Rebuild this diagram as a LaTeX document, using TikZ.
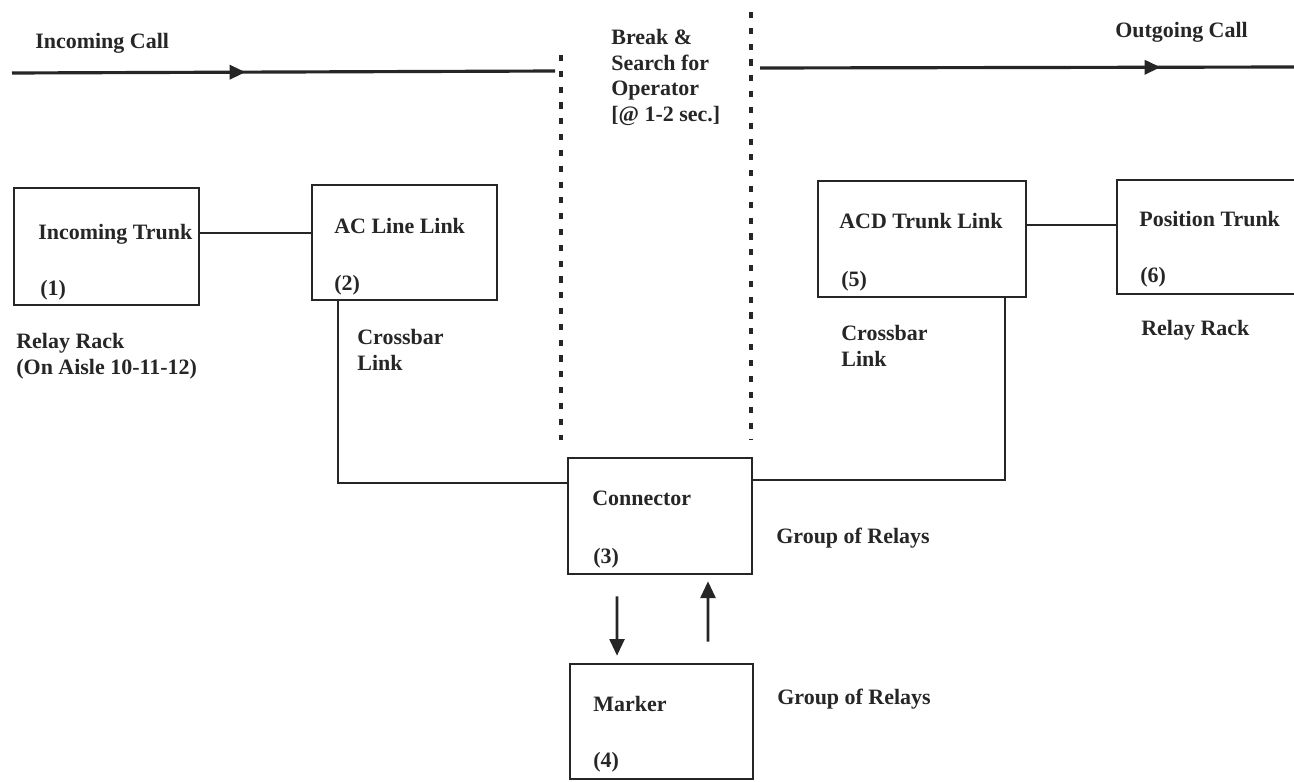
\documentclass[tikz,border=0pt]{standalone}
\usepackage{fontspec}
\setmainfont{Liberation Serif}
\usetikzlibrary{arrows.meta,decorations.markings,positioning}

\begin{document}
\begin{tikzpicture}[x=0.02cm,y=-0.02cm,every node/.style={inner sep=0pt},
  box/.style={rectangle,draw=black!85,line width=1.5pt},
  txt/.style={anchor=base west,font=\bfseries\fontsize{12.5}{14.5}\selectfont,text=black!85},
  multi/.style={anchor=north west,align=left,font=\bfseries\fontsize{12.5}{14.5}\selectfont,text=black!85},
  link/.style={black!85,line width=1.5pt},
  arr/.style={-{Triangle[length=9.5pt,width=8.5pt]},black!85,line width=1.5pt},
  callline/.style={black!85,line width=1.8pt,postaction={decorate},
    decoration={markings,mark=at position #1 with {\arrow{Triangle[length=9pt,width=8pt]}}}},
  breakline/.style={black!85,line width=2.2pt,dash pattern=on 3.5pt off 5.5pt}]
\useasboundingbox (0,0) rectangle (1294,781);
% boxes
\node (trunk) at (106.5,246.5) [box,minimum width=3.70cm,minimum height=2.34cm]{};
\node (acline) at (404.5,242.5) [box,minimum width=3.70cm,minimum height=2.30cm]{};
\node (conn) at (660,516) [box,minimum width=3.68cm,minimum height=2.32cm]{};
\node (marker) at (661.5,721.5) [box,minimum width=3.66cm,minimum height=2.30cm]{};
\node (acd) at (922,239) [box,minimum width=4.16cm,minimum height=2.32cm]{};
\node (postrunk) at (1218.5,237) [box,minimum width=4.06cm,minimum height=2.28cm]{};
% call lines and break
\coordinate (inA) at (12,73);
\coordinate (inB) at (555,71);
\coordinate (outA) at (760,68);
\coordinate (outB) at (1294,67);
\coordinate (brkAtop) at (561,55);
\coordinate (brkAbot) at (561,440);
\coordinate (brkBtop) at (751,12);
\coordinate (brkBbot) at (751,440);
\draw[callline=0.43] (inA) -- (inB);
\draw[callline=0.75] (outA) -- (outB);
\draw[breakline] (brkAtop) -- (brkAbot);
\draw[breakline] (brkBtop) -- (brkBbot);
% connections
\draw[link] ([yshift=0.27cm]trunk.east) coordinate (t1) -- (t1 -| acline.west);
\draw[link] ([yshift=0.28cm]acd.east) coordinate (t2) -- (t2 -| postrunk.west);
\draw[link] ([xshift=-1.33cm]acline.south) |- ([yshift=0.66cm]conn.west);
\draw[link] ([yshift=0.72cm]conn.east) -| ([xshift=1.66cm]acd.south);
\draw[arr] ([xshift=-0.86cm,yshift=-0.42cm]conn.south) -- ([xshift=-0.89cm,yshift=0.14cm]marker.north);
\draw[arr] ([xshift=0.93cm,yshift=0.42cm]marker.north) -- ([xshift=0.96cm,yshift=-0.12cm]conn.south);
% labels
\node (lblin) at (35,48) [txt]{Incoming Call};
\node (lblout) at (1115,37) [txt]{Outgoing Call};
\node (lblbreak) at (611,29) [multi]{Break \&\\Search for\\Operator\\{[@ 1-2 sec.]}};
\node (lbltrunk) at (38,239) [txt]{Incoming Trunk};
\node (numtrunk) at (40,295) [txt]{(1)};
\node (lblacline) at (334,233) [txt]{AC Line Link};
\node (numacline) at (334,290) [txt]{(2)};
\node (lblacd) at (839,228) [txt]{ACD Trunk Link};
\node (numacd) at (841,286) [txt]{(5)};
\node (lblpos) at (1139,226) [txt]{Position Trunk};
\node (numpos) at (1140,282) [txt]{(6)};
\node (lblrackl) at (16,333) [multi]{Relay Rack\\(On Aisle 10-11-12)};
\node (lblrackr) at (1141,335) [txt]{Relay Rack};
\node (lblxbarl) at (357,329) [multi]{Crossbar\\Link};
\node (lblxbarr) at (841,325) [multi]{Crossbar\\Link};
\node (lblconn) at (592,505) [txt]{Connector};
\node (numconn) at (593,563) [txt]{(3)};
\node (lblgrp1) at (776,543) [txt]{Group of Relays};
\node (lblmarker) at (593,711) [txt]{Marker};
\node (nummarker) at (593,767) [txt]{(4)};
\node (lblgrp2) at (777,704) [txt]{Group of Relays};
\end{tikzpicture}
\end{document}
